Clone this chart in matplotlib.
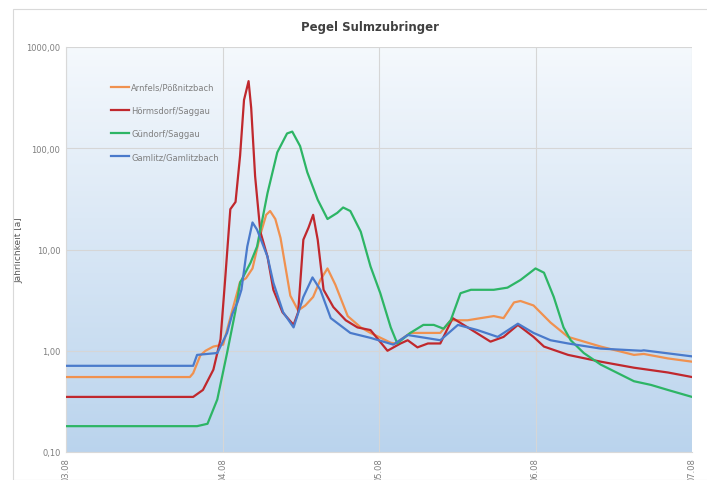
import numpy as np
import matplotlib
matplotlib.use("Agg")
import matplotlib.pyplot as plt
from matplotlib.patches import Rectangle

# hours since 03.08 00:00 and return period [a]
arn_h = [0, 19.0, 19.5, 20.6, 21.4, 22.6, 24.1, 25.5, 26.7, 27.6, 28.6, 29.8, 30.7, 31.3, 32.1, 32.9,
         34.4, 35.6, 36.7, 37.9, 39.0, 40.1, 41.3, 43.2, 45.2, 46.7, 49.8, 50.5, 52.8, 57.4, 59.0,
         61.6, 63.6, 65.6, 67.1, 68.7, 69.7, 71.7, 74.3, 77.0, 82.0, 87.1, 88.6, 92.3, 96.0]
arn_v = [0.55, 0.55, 0.6, 0.9, 1.0, 1.1, 1.15, 2.5, 4.8, 5.2, 6.5, 14, 22, 24, 20, 13,
         3.5, 2.5, 2.8, 3.4, 5.0, 6.5, 4.5, 2.2, 1.7, 1.5, 1.2, 1.18, 1.5, 1.5, 2.0,
         2.0, 2.1, 2.2, 2.1, 3.0, 3.1, 2.8, 1.9, 1.37, 1.1, 0.91, 0.93, 0.84, 0.78]

hoe_h = [0, 19.5, 21.0, 22.6, 23.7, 24.4, 25.2, 26.0, 26.7, 27.3, 28.0, 28.4, 29.0, 29.8, 30.9, 31.8,
         33.2, 34.9, 35.6, 36.4, 37.2, 37.9, 38.6, 39.5, 41.0, 42.9, 44.7, 46.7, 49.3, 51.3, 52.4,
         53.9, 55.5, 57.4, 59.3, 61.6, 65.1, 67.1, 69.3, 71.7, 73.3, 77.0, 82.0, 87.1, 92.3, 96.0]
hoe_v = [0.35, 0.35, 0.41, 0.65, 1.3, 5.0, 25, 29.5, 85, 300, 460, 250, 53, 15, 8.5, 4.0,
         2.4, 1.8, 2.4, 12.5, 16.5, 22, 12.5, 4.0, 2.7, 2.0, 1.7, 1.6, 1.0, 1.18, 1.27,
         1.08, 1.18, 1.18, 2.1, 1.7, 1.23, 1.37, 1.8, 1.37, 1.1, 0.91, 0.78, 0.68, 0.61, 0.55]

gue_h = [0, 20.1, 21.7, 23.2, 24.7, 26.0, 26.7, 28.3, 29.3, 30.9, 32.4, 33.9, 34.7, 35.9, 37.0, 38.6,
         40.1, 41.6, 42.5, 43.6, 45.2, 46.7, 48.2, 49.8, 50.8, 52.8, 54.8, 56.4, 57.9, 59.0, 60.5,
         62.1, 65.6, 67.7, 69.7, 72.0, 73.3, 74.8, 76.3, 77.4, 79.4, 82.0, 87.1, 89.7, 92.3, 96.0]
gue_v = [0.18, 0.18, 0.19, 0.33, 0.95, 2.5, 4.7, 7.4, 10.7, 36, 91, 140, 146, 105, 58, 31,
         20, 23, 26, 24, 15, 6.8, 3.7, 1.7, 1.18, 1.5, 1.8, 1.8, 1.65, 2.0, 3.7,
         4.0, 4.0, 4.2, 5.0, 6.5, 5.9, 3.4, 1.7, 1.27, 0.95, 0.73, 0.5, 0.46, 0.41, 0.35]

gam_h = [0, 19.5, 20.1, 23.2, 24.7, 25.5, 26.3, 26.9, 27.8, 28.6, 29.3, 30.9, 31.8, 33.3, 34.9, 36.4,
         37.8, 39.0, 40.6, 43.6, 46.7, 50.2, 52.4, 57.4, 60.1, 63.1, 66.2, 69.3, 71.7, 74.3, 77.0,
         82.0, 88.2, 88.6, 96.0]
gam_v = [0.71, 0.71, 0.91, 0.95, 1.5, 2.3, 3.0, 4.0, 10.7, 18.5, 15.7, 8.5, 4.7, 2.4, 1.7, 3.4,
         5.3, 4.0, 2.1, 1.5, 1.34, 1.15, 1.43, 1.27, 1.8, 1.6, 1.37, 1.85, 1.5, 1.27, 1.18,
         1.05, 1.0, 1.01, 0.88]

names = ["Arnfels/Pößnitzbach", "Hörmsdorf/Saggau", "Gündorf/Saggau", "Gamlitz/Gamlitzbach"]
colors = ["#f0914f", "#c0282d", "#2db565", "#4a7acb"]
day_labels = ["03.08", "04.08", "05.08", "06.08", "07.08"]
y_ticks = [0.1, 1, 10, 100, 1000]

fig = plt.figure(figsize=(7.07, 4.81), dpi=100)
fig.patches.append(Rectangle((13 / 707, 0), 1, 1 - 10 / 481, transform=fig.transFigure,
                             fill=False, edgecolor="#d9d9d9", linewidth=0.8))
ax = fig.add_axes([66 / 707, 1 - 453 / 481, 626 / 707, 405 / 481])

# background gradient
grad = np.linspace(0, 1, 256).reshape(-1, 1)
top = np.array([0.96, 0.975, 0.99])
bottom = np.array([0.73, 0.83, 0.93])
img = top + (bottom - top) * grad[..., None]
ax.imshow(img, extent=[0, 1, 0, 1], transform=ax.transAxes, aspect="auto", zorder=0)

series = [(arn_h, arn_v), (hoe_h, hoe_v), (gue_h, gue_v), (gam_h, gam_v)]
for (h, v), name, c in zip(series, names, colors):
    ax.plot(h, v, color=c, linewidth=1.6, label=name, zorder=3, solid_joinstyle="round")

ax.set_yscale("log")
ax.set_ylim(0.1, 1000)
ax.set_xlim(0, 96)
ax.set_yticks(y_ticks)
ax.set_yticklabels([("%.2f" % t).replace(".", ",") for t in y_ticks])
ax.minorticks_off()
ax.set_xticks([0, 24, 48, 72, 96])
ax.set_xticklabels(day_labels, rotation=90, va="top")
ax.tick_params(length=0, labelsize=6, colors="#7f7f7f", pad=4)
ax.grid(True, color="#d6d6d6", linewidth=0.8, zorder=1)
ax.set_axisbelow(True)
for s in ["top", "right"]:
    ax.spines[s].set_visible(False)
for s in ["left", "bottom"]:
    ax.spines[s].set_color("#d9d9d9")

ax.set_ylabel("Jährlichkeit [a]", fontsize=6.5, color="#595959", labelpad=2)
fig.text(370 / 707, 1 - 28 / 481, "Pegel Sulmzubringer", ha="center", va="center",
         fontsize=8.5, fontweight="bold", color="#404040")

leg = ax.legend(loc="upper left", bbox_to_anchor=(0.06, 0.93), frameon=False, fontsize=6,
                handlelength=2.2, handletextpad=0.2, labelspacing=1.7)
for t in leg.get_texts():
    t.set_color("#7f7f7f")

fig.savefig("out.png", dpi=100)
